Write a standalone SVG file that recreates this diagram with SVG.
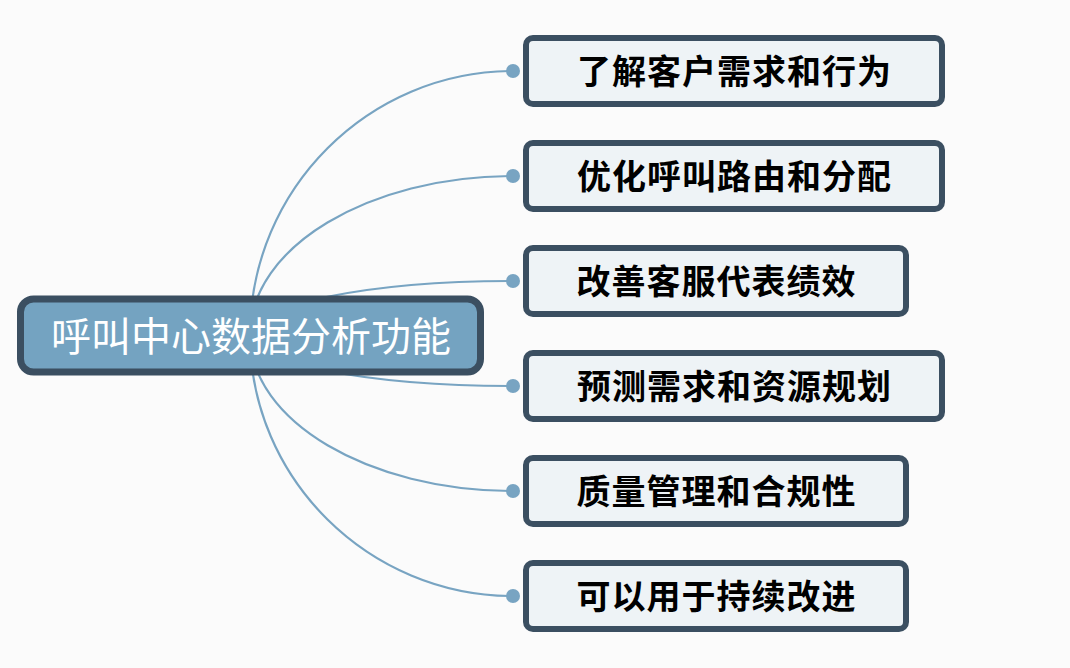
<svg xmlns="http://www.w3.org/2000/svg" width="1070" height="668" viewBox="0 0 1070 668">
<style>
.edge{fill:none;stroke:#78a4c2;stroke-width:2.2}
.dot{fill:#78a4c2}
.child{fill:#eef3f6;stroke:#3b4f61;stroke-width:6}
.ctext{font-family:"Noto Sans CJK SC","Noto Sans",sans-serif;font-size:34px;font-weight:600;letter-spacing:1px;fill:#000;text-anchor:middle}
.root{fill:#74a3c1;stroke:#3b4f61;stroke-width:7}
.rtext{font-family:"Noto Sans CJK SC","Noto Sans",sans-serif;font-size:40px;fill:#fff;text-anchor:middle}
</style>
<rect width="1070" height="668" fill="#fbfbfb"/>
<g id="connectors">
<path class="edge" d="M250,335 C250,189 369,71 513,71"/>
<path class="edge" d="M250,335 C250,247 369,176 513,176"/>
<path class="edge" d="M250,335 C250,305 369,281 513,281"/>
<path class="edge" d="M250,335 C250,363 369,386 513,386"/>
<path class="edge" d="M250,335 C250,421 369,491 513,491"/>
<path class="edge" d="M250,335 C250,479 369,596 513,596"/>
<circle class="dot" cx="513" cy="71" r="7"/>
<circle class="dot" cx="513" cy="176" r="7"/>
<circle class="dot" cx="513" cy="281" r="7"/>
<circle class="dot" cx="513" cy="386" r="7"/>
<circle class="dot" cx="513" cy="491" r="7"/>
<circle class="dot" cx="513" cy="596" r="7"/>
</g>
<g id="root">
<rect class="root" x="20.5" y="299" width="460" height="73" rx="13"/>
<text class="rtext" x="251" y="351">呼叫中心数据分析功能</text>
</g>
<g id="n1">
<rect class="child" x="526" y="38" width="416" height="66" rx="7"/>
<text class="ctext" x="734.5" y="84">了解客户需求和行为</text>
</g>
<g id="n2">
<rect class="child" x="526" y="143" width="416" height="66" rx="7"/>
<text class="ctext" x="734.5" y="189">优化呼叫路由和分配</text>
</g>
<g id="n3">
<rect class="child" x="526" y="248" width="380" height="66" rx="7"/>
<text class="ctext" x="716.5" y="294">改善客服代表绩效</text>
</g>
<g id="n4">
<rect class="child" x="526" y="353" width="416" height="66" rx="7"/>
<text class="ctext" x="734.5" y="399">预测需求和资源规划</text>
</g>
<g id="n5">
<rect class="child" x="526" y="458" width="380" height="66" rx="7"/>
<text class="ctext" x="716.5" y="504">质量管理和合规性</text>
</g>
<g id="n6">
<rect class="child" x="526" y="563" width="380" height="66" rx="7"/>
<text class="ctext" x="716.5" y="609">可以用于持续改进</text>
</g>
</svg>
